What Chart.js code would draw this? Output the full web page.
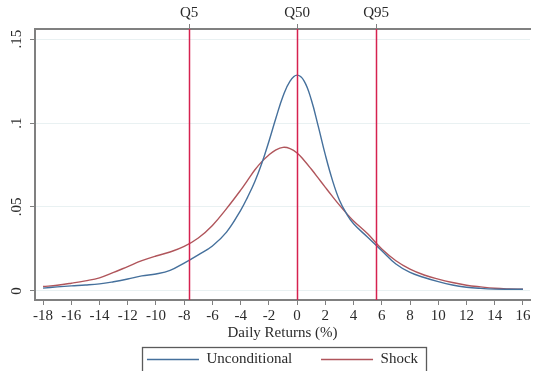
<!DOCTYPE html>
<html>
<head>
<meta charset="utf-8">
<script src="https://cdn.jsdelivr.net/npm/chart.js@4"></script>
<style>
  html, body { margin: 0; padding: 0; background: #fff; }
  #wrap { width: 533px; height: 371px; }
</style>
</head>
<body>
<div id="wrap"><canvas id="grafico"></canvas></div>
<script>
// retornos diarios (%) e densidades
const returns = [-18,-17,-16,-15,-14,-13,-12,-11,-10,-9,-8,-7,-6,-5,-4,-3.5,-3,-2.5,-2,-1.5,-1,-0.5,0,0.5,1,1.5,2,2.5,3,3.5,4,5,6,7,8,9,10,11,12,13,14,15,16];
const unconditional = [0.0017,0.0024,0.003,0.0035,0.0042,0.0055,0.0071,0.009,0.0101,0.0122,0.0166,0.0215,0.0268,0.035,0.048,0.056,0.065,0.076,0.089,0.103,0.116,0.125,0.1285,0.125,0.114,0.098,0.081,0.066,0.054,0.046,0.040,0.032,0.024,0.016,0.011,0.008,0.0055,0.0035,0.0022,0.0015,0.0011,0.001,0.001];
const shock = [0.0026,0.0034,0.0046,0.006,0.0078,0.011,0.0145,0.018,0.0208,0.0232,0.0265,0.0315,0.039,0.049,0.060,0.066,0.072,0.077,0.081,0.084,0.0855,0.0848,0.0822,0.0777,0.0726,0.0672,0.0617,0.0563,0.0511,0.0462,0.0417,0.034,0.025,0.018,0.013,0.0095,0.007,0.005,0.0034,0.0024,0.0016,0.0012,0.001];
const quantiles = [-7.65, 0, 5.6];
const quantileLabels = ['Q5', 'Q50', 'Q95'];
const xTicks = [-18,-16,-14,-12,-10,-8,-6,-4,-2,0,2,4,6,8,10,12,14,16];
const yTicks = [0, 0.05, 0.1, 0.15];
const yTickLabels = ['0', '.05', '.1', '.15'];

const serif = 'Liberation Serif';
const axisGray = '#808080';
const textColor = '#2a2a2a';

// linhas verticais dos quantis
const quantileLines = {
  id: 'quantileLines',
  afterDatasetsDraw(chart) {
    const { ctx, chartArea, scales } = chart;
    ctx.save();
    ctx.strokeStyle = '#d6224f';
    ctx.lineWidth = 1.5;
    quantiles.forEach(q => {
      const px = Math.round(scales.x.getPixelForValue(q)) + 0.5;
      ctx.beginPath();
      ctx.moveTo(px, chartArea.top);
      ctx.lineTo(px, chartArea.bottom);
      ctx.stroke();
    });
    ctx.restore();
  }
};

// legenda centrada na area do grafico, com moldura
const legendBox = {
  id: 'legendBox',
  afterLayout(chart) {
    const lg = chart.legend;
    const oldMid = (lg.left + lg.right) / 2;
    lg.left = chart.chartArea.left;
    lg.right = chart.chartArea.right;
    lg.width = lg.right - lg.left;
    const delta = (lg.left + lg.right) / 2 - oldMid;
    (lg.legendHitBoxes || []).forEach(hb => { hb.left += delta; });
  },
  afterDraw(chart) {
    const boxes = chart.legend.legendHitBoxes;
    if (!boxes || !boxes.length) return;
    const first = boxes[0], last = boxes[boxes.length - 1];
    const ctx = chart.ctx;
    ctx.save();
    ctx.strokeStyle = '#5a5a5a';
    ctx.lineWidth = 1.3;
    const left = Math.round(first.left - 5) + 0.5;
    const right = Math.round(last.left + last.width + 8) + 0.5;
    const top = Math.round(first.top - 5) + 0.5;
    ctx.strokeRect(left, top, right - left, chart.height + 10 - top);
    ctx.restore();
  }
};

const ctx = document.getElementById('grafico').getContext('2d');

new Chart(ctx, {
  type: 'line',
  data: {
    datasets: [{
      label: 'Unconditional',
      data: returns.map((r, i) => ({ x: r, y: unconditional[i] })),
      borderColor: '#45709c',
      backgroundColor: '#45709c',
      borderWidth: 1.4,
      pointRadius: 0,
      tension: 0.4
    }, {
      label: 'Shock',
      data: returns.map((r, i) => ({ x: r, y: shock[i] })),
      borderColor: '#b0555b',
      backgroundColor: '#b0555b',
      borderWidth: 1.4,
      pointRadius: 0,
      tension: 0.4
    }]
  },
  options: {
    responsive: true,
    maintainAspectRatio: false,
    animation: false,
    layout: { padding: { left: 0, right: 3, top: 0, bottom: -6 } },
    plugins: {
      tooltip: { enabled: false },
      legend: {
        position: 'bottom',
        labels: {
          usePointStyle: true,
          pointStyle: 'line',
          pointStyleWidth: 52,
          boxWidth: 52,
          padding: 10,
          color: textColor,
          font: { family: serif, size: 15 },
          generateLabels: chart => {
            const items = Chart.defaults.plugins.legend.labels.generateLabels(chart);
            items.forEach((it, i) => { if (i < items.length - 1) it.text += '     '; });
            return items;
          }
        }
      }
    },
    scales: {
      x: {
        type: 'linear',
        position: 'bottom',
        min: -18.57,
        max: 16.5,
        afterBuildTicks: s => { s.ticks = xTicks.map(v => ({ value: v })); },
        afterFit: s => { s.height = 42; },
        ticks: {
          color: textColor,
          font: { family: serif, size: 15 },
          padding: 2,
          maxRotation: 0,
          autoSkip: false
        },
        grid: { drawOnChartArea: false, tickLength: 5, tickColor: axisGray },
        border: { color: axisGray, width: 2 },
        title: {
          display: true,
          text: 'Daily Returns (%)',
          color: textColor,
          font: { family: serif, size: 15 },
          padding: { top: 0, bottom: 0 }
        }
      },
      xq: {
        type: 'linear',
        position: 'top',
        min: -18.57,
        max: 16.5,
        afterBuildTicks: s => { s.ticks = quantiles.map(v => ({ value: v })); },
        afterFit: s => { s.height = 29; },
        ticks: {
          color: textColor,
          font: { family: serif, size: 15 },
          padding: 2,
          maxRotation: 0,
          autoSkip: false,
          callback: (v, i) => quantileLabels[i]
        },
        grid: { drawOnChartArea: false, tickLength: 5, tickColor: axisGray },
        border: { color: axisGray, width: 2 }
      },
      y: {
        type: 'linear',
        min: -0.0054,
        max: 0.156,
        afterBuildTicks: s => { s.ticks = yTicks.map(v => ({ value: v })); },
        afterFit: s => { s.width = 35; },
        ticks: {
          color: textColor,
          font: { family: serif, size: 15 },
          minRotation: 90,
          maxRotation: 90,
          crossAlign: 'center',
          padding: 4,
          callback: (v, i) => yTickLabels[i]
        },
        grid: { color: '#e9f1f2', tickLength: 5, tickColor: axisGray },
        border: { color: axisGray, width: 2 }
      }
    }
  },
  plugins: [quantileLines, legendBox]
});
</script>
</body>
</html>
